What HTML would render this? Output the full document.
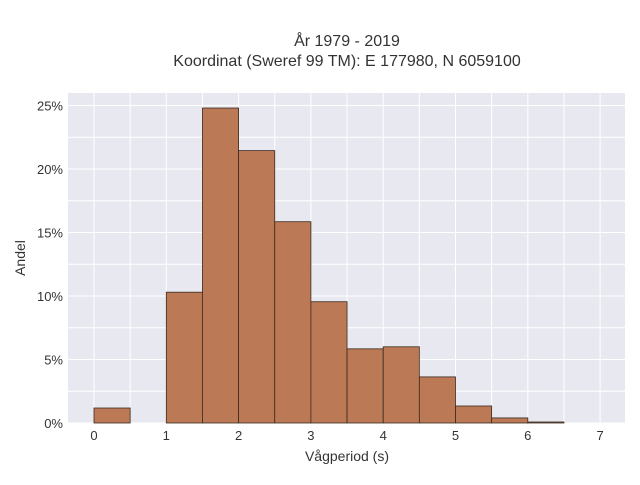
<!DOCTYPE html>
<html><head><meta charset="utf-8"><style>
body{margin:0;background:#fff;font-family:"Liberation Sans",sans-serif;}
svg text{font-family:"Liberation Sans",sans-serif;fill:#333;}
</style></head><body>
<svg id="chart" width="640" height="480" xmlns="http://www.w3.org/2000/svg">
<text x="347" y="46" text-anchor="middle" font-size="16">År 1979 - 2019</text>
<text x="347" y="66" text-anchor="middle" font-size="16">Koordinat (Sweref 99 TM): E 177980, N 6059100</text>
<rect x="68" y="93" width="557" height="330" fill="#e8e8f0"/>
<g id="grid"></g><g id="bars"></g><g id="axes"></g>
<text x="347" y="461" text-anchor="middle" font-size="14">Vågperiod (s)</text>
<text transform="translate(25,258) rotate(-90)" text-anchor="middle" font-size="14">Andel</text>
</svg>
<script>
const binStarts=[0,0.5,1,1.5,2,2.5,3,3.5,4,4.5,5,5.5,6];
const binValues=[1.18,0,10.3,24.8,21.45,15.85,9.55,5.84,6.0,3.63,1.34,0.4,0.08];
const xTicks=[0,1,2,3,4,5,6,7];
const yTicks=[0,5,10,15,20,25];
const binWidth=0.5;
const NS="http://www.w3.org/2000/svg";
function xs(v){return 94+v*72.3;}
function ys(v){return 423-v*12.7;}
const grid=document.getElementById('grid'),bars=document.getElementById('bars'),axes=document.getElementById('axes');
for(let v=0;v<=7.001;v+=0.5){
 const l=document.createElementNS(NS,'line');
 
 
 l.setAttribute('x1',xs(v));l.setAttribute('x2',xs(v));l.setAttribute('y1',93);l.setAttribute('y2',423);
 l.setAttribute('stroke','#fff');l.setAttribute('stroke-width','1');grid.appendChild(l);
}
for(let v=0;v<=25;v+=2.5){
 const l=document.createElementNS(NS,'line');
 
 
 l.setAttribute('x1',68);l.setAttribute('x2',625);l.setAttribute('y1',ys(v));l.setAttribute('y2',ys(v));
 l.setAttribute('stroke','#fff');l.setAttribute('stroke-width','1');grid.appendChild(l);
}
binStarts.forEach((s,i)=>{
 const v=binValues[i]; if(v<=0)return;
 const r=document.createElementNS(NS,'rect');
 
 
 r.setAttribute('x',xs(s));r.setAttribute('width',xs(s+binWidth)-xs(s));
 r.setAttribute('y',ys(v));r.setAttribute('height',ys(0)-ys(v));
 r.setAttribute('fill','#bb7a55');r.setAttribute('stroke','#3a2a20');r.setAttribute('stroke-width','0.8');
 bars.appendChild(r);
});
xTicks.forEach(t=>{
 const tx=document.createElementNS(NS,'text');
 
 
 tx.setAttribute('x',xs(t));tx.setAttribute('y',440);tx.setAttribute('text-anchor','middle');tx.setAttribute('font-size','13');
 tx.textContent=t;axes.appendChild(tx);
});
yTicks.forEach(t=>{
 const tx=document.createElementNS(NS,'text');
 
 
 tx.setAttribute('x',63);tx.setAttribute('y',ys(t)+5);tx.setAttribute('text-anchor','end');tx.setAttribute('font-size','13');
 tx.textContent=t+'%';axes.appendChild(tx);
});
</script>
</body></html>
